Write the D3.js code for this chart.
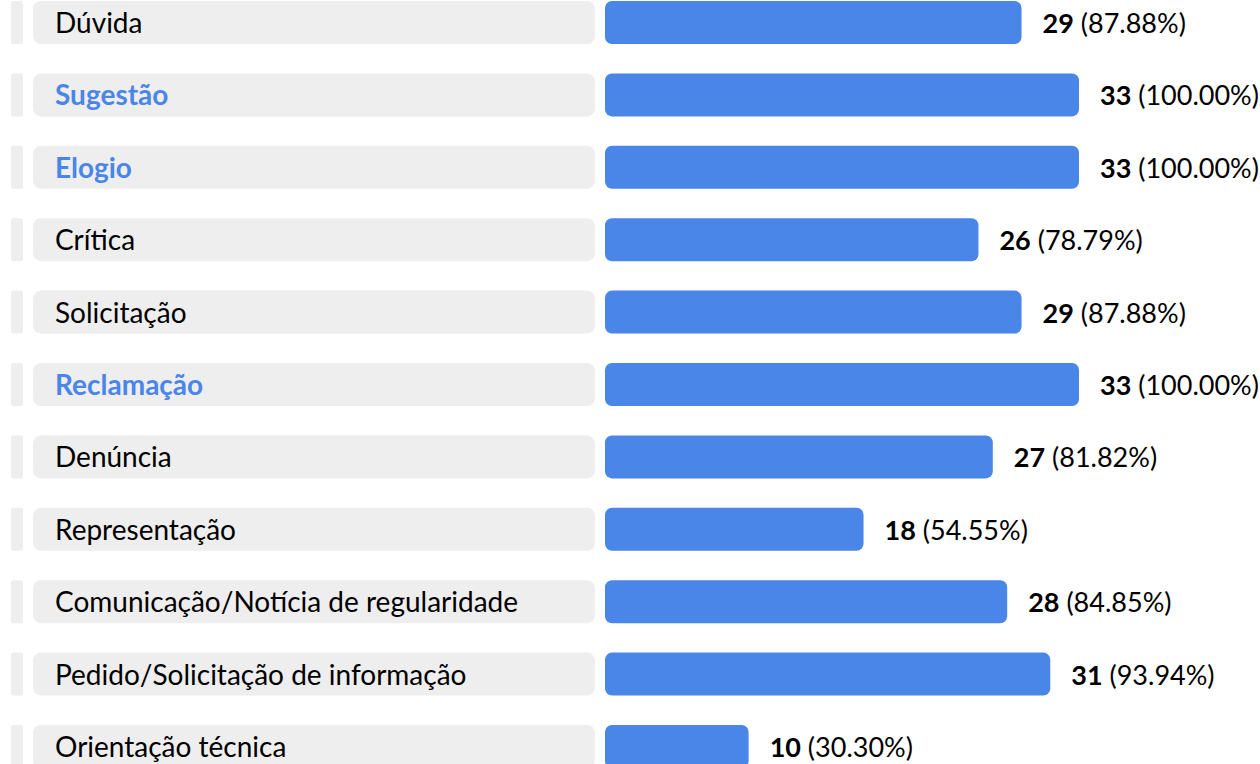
<!DOCTYPE html>
<html>
<head>
<meta charset="utf-8">
<script src="https://cdn.jsdelivr.net/npm/d3@7"></script>
<style>
  html, body { margin: 0; padding: 0; background: #fff; }
  svg { display: block; font-family: Lato, "Noto Sans", sans-serif; }
</style>
</head>
<body>
<svg id="vis" width="1260" height="764"></svg>
<script>
// chart values
const CATEGORIES = ["Dúvida", "Sugestão", "Elogio", "Crítica", "Solicitação", "Reclamação",
    "Denúncia", "Representação", "Comunicação/Notícia de regularidade",
    "Pedido/Solicitação de informação", "Orientação técnica"];
const COUNTS = [29, 33, 33, 26, 29, 33, 27, 18, 28, 31, 10];
const PERCENTS = ["87.88%", "100.00%", "100.00%", "78.79%", "87.88%", "100.00%",
    "81.82%", "54.55%", "84.85%", "93.94%", "30.30%"];

const BLUE = "#4a86e8";
const GREY = "#eeeeee";
const STEP = 72.4;
const PAD = 0.406;

const svg = d3.select("#vis");

const rows = CATEGORIES.map(function(c, i){
    return {name: c, count: COUNTS[i], pct: PERCENTS[i]};
});
const maxCount = d3.max(COUNTS);

// y: one band per category
const y = d3.scaleBand()
    .domain(CATEGORIES)
    .range([1 - STEP * PAD / 2, 1 - STEP * PAD / 2 + STEP * CATEGORIES.length])
    .paddingInner(PAD)
    .paddingOuter(PAD / 2);

// x: bar length
const x = d3.scaleLinear()
    .domain([0, maxCount])
    .range([605, 1079]);

const g = svg.selectAll("g.row")
    .data(rows)
    .enter()
    .append("g")
    .attr("class", "row")
    .attr("transform", function(d){ return `translate(0, ${y(d.name)})`; });

// small grip strip on the left
g.append("rect")
    .attr("x", 11).attr("width", 12)
    .attr("height", y.bandwidth())
    .attr("rx", 2)
    .style("fill", GREY);

// label box
g.append("rect")
    .attr("x", 33).attr("width", 562)
    .attr("height", y.bandwidth())
    .attr("rx", 8)
    .style("fill", GREY);

g.append("text")
    .attr("x", 55)
    .attr("y", 32)
    .style("font-size", "28px")
    .style("font-weight", function(d){ return d.count === maxCount ? "bold" : "normal"; })
    .style("fill", function(d){ return d.count === maxCount ? BLUE : "#000"; })
    .text(function(d){ return d.name; });

// bars
g.append("rect")
    .attr("x", x(0))
    .attr("width", function(d){ return x(d.count) - x(0); })
    .attr("height", y.bandwidth())
    .attr("rx", 7)
    .style("fill", BLUE);

// value labels
const lab = g.append("text")
    .attr("x", function(d){ return x(d.count) + 21; })
    .attr("y", 32)
    .style("font-size", "27px")
    .style("fill", "#000");
lab.append("tspan")
    .style("font-weight", "bold")
    .text(function(d){ return d.count; });
lab.append("tspan")
    .text(function(d){ return " (" + d.pct + ")"; });
</script>
</body>
</html>
